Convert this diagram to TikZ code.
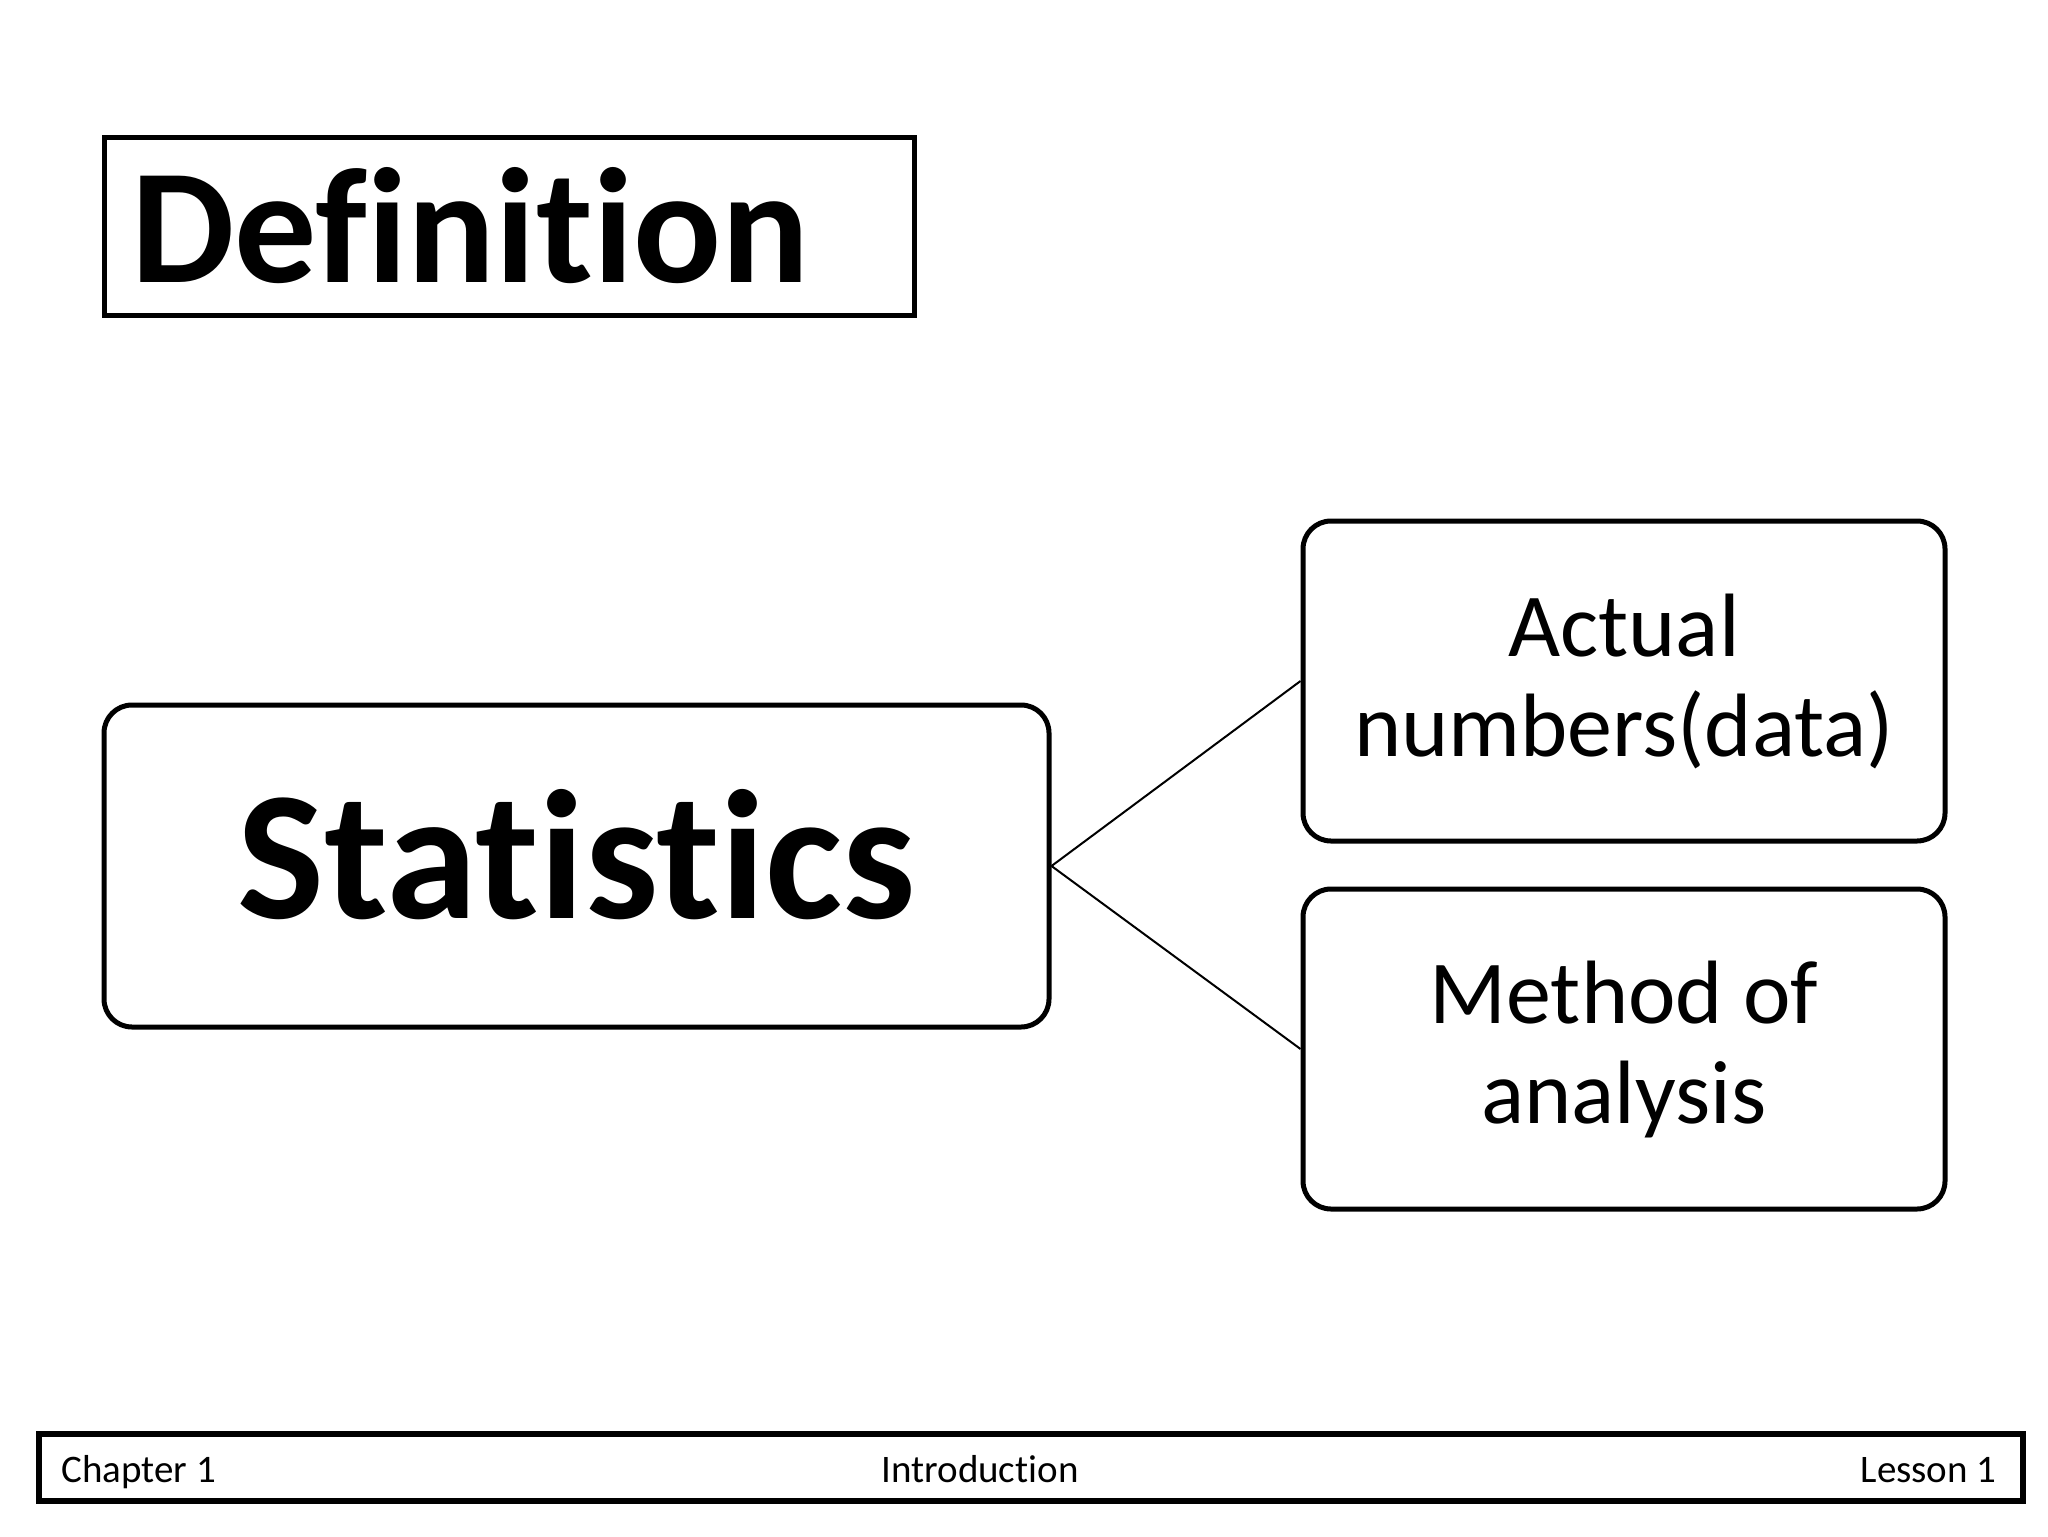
\documentclass[tikz,border=0pt]{standalone}
\usepackage{fontspec}
\setmainfont{Carlito}[Ligatures={NoCommon,NoRare,NoDiscretionary}]
\begin{document}
\begin{tikzpicture}[x=0.5pt,y=-0.5pt,
  rbox/.style={draw=black,line width=2.5pt,rounded corners=14pt,fill=white,align=center,inner sep=0pt},
  conn/.style={draw=black,line width=1pt},
  foot/.style={inner sep=0pt,font=\fontsize{19.5pt}{23pt}\selectfont}]
\useasboundingbox[fill=white] (0,0) rectangle (2048,1536);
% title
\node[draw=black,line width=2.5pt,minimum width=405pt,minimum height=89pt,inner xsep=13.5pt,inner ysep=0pt,
  text width=378pt,align=left,font=\fontsize{82pt}{98pt}\selectfont\bfseries] (def) at (509,226) {Definition};
% main boxes
\node[rbox,minimum width=472.5pt,minimum height=161pt] (stat) at (576.5,866) {};
\node[inner sep=0pt,anchor=base,font=\fontsize{92pt}{110pt}\selectfont\bfseries] (stattext) at (576.5,918) {Statistics};
\node[rbox,minimum width=321pt,minimum height=160pt,font=\fontsize{45pt}{50pt}\selectfont] (act) at (1624,681) {Actual\\numbers(data)};
\node[rbox,minimum width=321pt,minimum height=160pt,font=\fontsize{45pt}{50pt}\selectfont] (meth) at (1624,1049) {Method of\\analysis};
\draw[conn] (stat.east) -- (act.west);
\draw[conn] (stat.east) -- (meth.west);
% footer
\node[draw=black,line width=3pt,minimum width=992pt,minimum height=33.5pt,inner sep=0pt] (footbox) at (1031,1467.5) {};
\node[foot,anchor=base west] (ch) at (61,1482) {Chapter 1};
\node[foot,anchor=base] (intro) at (980,1482) {Introduction};
\node[foot,anchor=base east] (les) at (1997,1482) {Lesson 1};
\end{tikzpicture}
\end{document}
